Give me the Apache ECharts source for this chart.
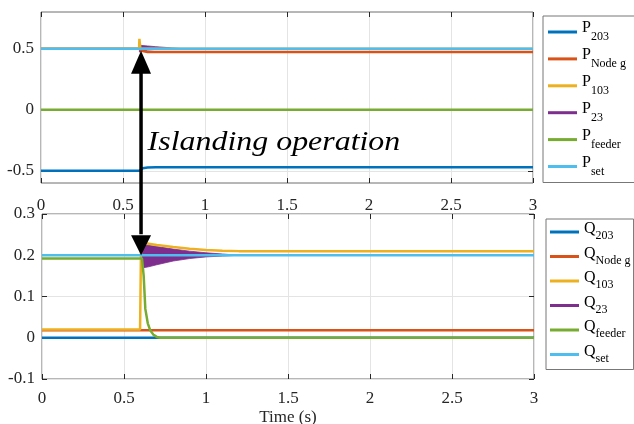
<!DOCTYPE html>
<html><head><meta charset="utf-8">
<script src="https://cdn.jsdelivr.net/npm/echarts@6/dist/echarts.min.js"></script>
<style>html,body{margin:0;padding:0;background:#fff}#c{width:634px;height:424px}</style>
</head><body><div id="c"></div>
<script>
// ---------- data ----------
const xTickValues = [0, 0.5, 1, 1.5, 2, 2.5, 3];
const pTickValues = [-0.5, 0, 0.5];
const qTickValues = [-0.1, 0, 0.1, 0.2, 0.3];

const pSubs = ['203', 'Node g', '103', '23', 'feeder', 'set'];
const qSubs = ['203', 'Node g', '103', '23', 'feeder', 'set'];

// Top panel (active power)
const p203_t = [0, 0.6, 0.62, 0.65, 0.7, 3];
const p203_v = [-0.5, -0.5, -0.48, -0.474, -0.472, -0.472];
const pNode_t = [0, 0.6, 0.62, 0.65, 3];
const pNode_v = [0.5, 0.5, 0.48, 0.473, 0.473];
const p103_t = [0, 0.598, 0.6, 0.606, 3];
const p103_v = [0.5, 0.5, 0.58, 0.5, 0.5];
const p23_t = [0.6, 0.65, 0.7, 0.75, 0.8, 0.86];
const p23_lo = [0.472, 0.488, 0.494, 0.497, 0.499, 0.5];
const p23_hi = [0.528, 0.522, 0.516, 0.511, 0.506, 0.5];
const pFeeder_t = [0, 3];
const pFeeder_v = [0, 0];
const pSet_t = [0, 3];
const pSet_v = [0.5, 0.5];

// Bottom panel (reactive power)
const q203_t = [0, 3];
const q203_v = [0, 0];
const qNode_t = [0, 3];
const qNode_v = [0.018, 0.018];
const q103_t = [0, 0.598, 0.604, 0.65, 0.7, 0.8, 0.9, 1.0, 1.1, 1.2, 3];
const q103_v = [0.02, 0.02, 0.23, 0.228, 0.225, 0.22, 0.216, 0.213, 0.211, 0.21, 0.21];
const q23_t = [0.6, 0.62, 0.65, 0.7, 0.8, 0.9, 1.0, 1.1, 1.2];
const q23_lo = [0.2, 0.17, 0.172, 0.177, 0.186, 0.192, 0.196, 0.198, 0.2];
const q23_hi = [0.2, 0.225, 0.224, 0.221, 0.215, 0.21, 0.206, 0.203, 0.2];
const qFeeder_t = [0, 0.61, 0.62, 0.63, 0.645, 0.66, 0.68, 0.7, 0.72, 3];
const qFeeder_v = [0.192, 0.192, 0.15, 0.07, 0.035, 0.018, 0.007, 0.002, 0, 0];
const qSet_t = [0, 3];
const qSet_v = [0.2, 0.2];

// annotation
const annotText = 'Islanding operation';
const arrowT = 0.61, arrowTopVal = 0.5, arrowBotVal = 0.2;
const textAnchor = [0.65, -0.27];

// ---------- styles ----------
const C = ['#0072BD', '#D95319', '#EDB120', '#7E2F8E', '#77AC30', '#4DBEEE'];
const FONT = '"Liberation Serif", "Times New Roman", serif';
const AX = '#262626';
const GRIDC = '#e4e4e4';

function pts(t, v) { return t.map((x, i) => [x, v[i]]); }
function line(name, color, t, v, xi, yi) {
  return { type: 'line', name, color, xAxisIndex: xi, yAxisIndex: yi, data: pts(t, v),
    showSymbol: false, symbol: 'none', lineStyle: { width: 2.5, color }, animation: false, silent: true };
}
function band(name, color, t, lo, hi, xi, yi) {
  return { type: 'custom', name, color, coordinateSystem: 'cartesian2d', xAxisIndex: xi, yAxisIndex: yi,
    data: t.map((x, i) => [x, lo[i], hi[i]]), encode: { x: 0, y: [1, 2] },
    itemStyle: { color }, animation: false, silent: true,
    renderItem: (params, api) => {
      if (params.dataIndex !== 0) return null;
      const up = t.map((x, i) => api.coord([x, hi[i]]));
      const dn = t.map((x, i) => api.coord([x, lo[i]])).reverse();
      return { type: 'polygon', shape: { points: up.concat(dn) }, style: { fill: color, stroke: color, lineWidth: 0.8 } };
    } };
}

function xMain(gi, withName, margin) {
  const a = { type: 'value', gridIndex: gi, min: 0, max: 3, interval: 0.5, position: 'bottom',
    axisLine: { show: false, onZero: false },
    axisTick: { inside: true, length: 5, lineStyle: { color: AX } },
    axisLabel: { margin, color: AX, fontFamily: FONT, fontSize: 17, customValues: xTickValues },
    splitLine: { show: true, lineStyle: { color: GRIDC, width: 1 } } };
  if (withName) {
    Object.assign(a, { name: 'Time (s)', nameLocation: 'middle', nameGap: 30,
      nameTextStyle: { color: AX, fontFamily: FONT, fontSize: 17 } });
  }
  return a;
}
function xMirror(gi) {
  return { type: 'value', gridIndex: gi, min: 0, max: 3, interval: 0.5, position: 'top',
    axisLine: { show: false, onZero: false }, axisTick: { inside: true, length: 5, lineStyle: { color: AX } },
    axisLabel: { show: false }, splitLine: { show: false } };
}
function yMain(gi, min, max, ticks) {
  return { type: 'value', gridIndex: gi, min, max, position: 'left',
    axisLine: { show: false, onZero: false },
    axisTick: { inside: true, length: 5, lineStyle: { color: AX }, customValues: ticks },
    axisLabel: { margin: 7, color: AX, fontFamily: FONT, fontSize: 17, customValues: ticks },
    splitLine: { show: true, lineStyle: { color: GRIDC, width: 1 } } };
}
function yMirror(gi, min, max, ticks) {
  return { type: 'value', gridIndex: gi, min, max, position: 'right',
    axisLine: { show: false, onZero: false },
    axisTick: { inside: true, length: 5, lineStyle: { color: AX }, customValues: ticks },
    axisLabel: { show: false }, splitLine: { show: false } };
}

function legendCfg(letter, subs, names, left, top, gap, pad, mPadB, sPadT) {
  const map = {};
  names.forEach((n, i) => { map[n] = subs[i]; });
  return {
    orient: 'vertical', left, top, data: names,
    icon: 'rect', itemWidth: 29, itemHeight: 3, itemGap: gap, padding: pad,
    borderColor: '#777', borderWidth: 1, backgroundColor: '#fff', selectedMode: false,
    formatter: n => '{m|' + letter + '}{s|' + map[n] + '}',
    textStyle: { fontFamily: FONT, color: '#000',
      rich: {
        m: { fontFamily: FONT, fontSize: 16, lineHeight: 18, padding: [0, 0, mPadB, 0], color: '#000' },
        s: { fontFamily: FONT, fontSize: 12, lineHeight: 12, padding: [sPadT, 0, 0, 0], color: '#000' }
      } }
  };
}

const pNames = pSubs.map(s => 'P_' + s);
const qNames = qSubs.map(s => 'Q_' + s);

const series = [
  line(pNames[0], C[0], p203_t, p203_v, 0, 0),
  line(pNames[1], C[1], pNode_t, pNode_v, 0, 0),
  line(pNames[2], C[2], p103_t, p103_v, 0, 0),
  band(pNames[3], C[3], p23_t, p23_lo, p23_hi, 0, 0),
  line(pNames[4], C[4], pFeeder_t, pFeeder_v, 0, 0),
  line(pNames[5], C[5], pSet_t, pSet_v, 0, 0),
  line(qNames[0], C[0], q203_t, q203_v, 2, 2),
  line(qNames[1], C[1], qNode_t, qNode_v, 2, 2),
  line(qNames[2], C[2], q103_t, q103_v, 2, 2),
  band(qNames[3], C[3], q23_t, q23_lo, q23_hi, 2, 2),
  line(qNames[4], C[4], qFeeder_t, qFeeder_v, 2, 2),
  line(qNames[5], C[5], qSet_t, qSet_v, 2, 2)
];

const chart = echarts.init(document.getElementById('c'), null, { renderer: 'canvas' });
chart.setOption({
  animation: false,
  backgroundColor: '#fff',
  grid: [
    { left: 41, top: 12, width: 492, height: 171, show: true, borderColor: '#6f6f6f', borderWidth: 1,
      backgroundColor: 'transparent', outerBoundsMode: 'none', containLabel: false },
    { left: 42, top: 214, width: 492, height: 165, show: true, borderColor: '#6f6f6f', borderWidth: 1,
      backgroundColor: 'transparent', outerBoundsMode: 'none', containLabel: false }
  ],
  xAxis: [xMain(0, false, 14), xMirror(0), xMain(1, true, 11), xMirror(1)],
  yAxis: [yMain(0, -0.6, 0.8, pTickValues), yMirror(0, -0.6, 0.8, pTickValues),
          yMain(1, -0.1, 0.3, qTickValues), yMirror(1, -0.1, 0.3, qTickValues)],
  legend: [
    legendCfg('P', pSubs, pNames, 543, 16, 2.9, [4, 20, 4, 5], 8, 10),
    legendCfg('Q', qSubs, qNames, 546, 219, 2.5, [2, 3, 4, 4], 6, 8)
  ],
  series
});

// annotation: double-headed arrow + text, positioned via the axes
const pTop = chart.convertToPixel({ gridIndex: 0 }, [arrowT, arrowTopVal]);
const pBot = chart.convertToPixel({ gridIndex: 1 }, [arrowT, arrowBotVal]);
const pTxt = chart.convertToPixel({ gridIndex: 0 }, textAnchor);
const hw = 10, hh = 23;
const x = pTop[0];
chart.setOption({
  graphic: [
    { type: 'line', shape: { x1: x, y1: pTop[1] + hh - 2, x2: x, y2: pBot[1] - hh + 2 }, style: { stroke: '#000', lineWidth: 3.5 }, z: 100 },
    { type: 'polygon', shape: { points: [[x, pTop[1] + 2], [x - hw, pTop[1] + hh + 2], [x + hw, pTop[1] + hh + 2]] }, style: { fill: '#000' }, z: 100 },
    { type: 'polygon', shape: { points: [[x, pBot[1]], [x - hw, pBot[1] - hh + 3], [x + hw, pBot[1] - hh + 3]] }, style: { fill: '#000' }, z: 100 },
    { type: 'text', x: pTxt[0], y: pTxt[1], scaleX: 1.14, style: { text: annotText, fill: '#000', font: 'italic 28px ' + FONT, verticalAlign: 'middle' }, z: 100 }
  ]
});
</script>
</body></html>
